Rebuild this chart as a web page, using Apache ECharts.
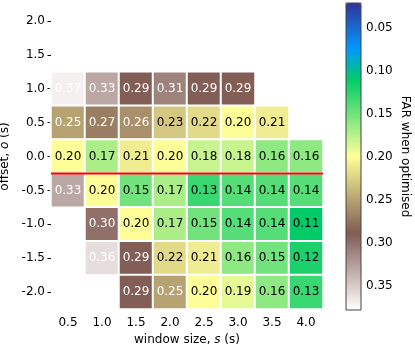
<!DOCTYPE html>
<html>
<head>
<meta charset="utf-8">
<script src="https://cdn.jsdelivr.net/npm/echarts@6/dist/echarts.min.js"></script>
<style>
html, body { margin: 0; padding: 0; background: #fff; }
#container { width: 415px; height: 349px; }
</style>
</head>
<body>
<div id="container"></div>
<script>
var dom = document.getElementById("container");
var myChart = echarts.init(dom);

// window sizes (x) and offsets (y)
var windowSizes = ['0.5', '1.0', '1.5', '2.0', '2.5', '3.0', '3.5', '4.0'];
var offsets = ['-2.0', '-1.5', '-1.0', '-0.5', '0.0', '0.5', '1.0', '1.5', '2.0'];

// FAR per offset row, columns follow windowSizes (null = no cell)
var rowOffsets = ['1.0', '0.5', '0.0', '-0.5', '-1.0', '-1.5', '-2.0'];
var farValues = [
    [0.37, 0.33, 0.29, 0.31, 0.29, 0.29, null, null],
    [0.25, 0.27, 0.26, 0.23, 0.22, 0.20, 0.21, null],
    [0.20, 0.17, 0.21, 0.20, 0.18, 0.18, 0.16, 0.16],
    [0.33, 0.20, 0.15, 0.17, 0.13, 0.14, 0.14, 0.14],
    [null, 0.30, 0.20, 0.17, 0.15, 0.14, 0.14, 0.11],
    [null, 0.36, 0.29, 0.22, 0.21, 0.16, 0.15, 0.12],
    [null, null, 0.29, 0.25, 0.20, 0.19, 0.16, 0.13]
];

// colour bar
var cbarMin = 0.021;
var cbarMax = 0.378;
var cbarTicks = [0.05, 0.10, 0.15, 0.20, 0.25, 0.30, 0.35];

// red separator sits between offset 0.0 and -0.5
var splitOffset = -0.25;

// matplotlib "terrain" sampled every 5%
var terrain = ['#333399', '#2255bb', '#1177dd', '#0099ff', '#00b3b3', '#00cc66',
    '#33d670', '#66e07a', '#99eb85', '#ccf58f', '#ffff99', '#e6de8b', '#ccbe7d',
    '#b39d70', '#997c62', '#805c54', '#997c76', '#b39d98', '#ccbebb', '#e6dedd', '#ffffff'];

var data = [];
for (var r = 0; r < rowOffsets.length; r++) {
    for (var c = 0; c < windowSizes.length; c++) {
        var v = farValues[r][c];
        if (v === null) continue;
        data.push({
            value: [windowSizes[c], rowOffsets[r], v],
            label: { color: v >= 0.245 ? '#ffffff' : '#000000' }
        });
    }
}

var font = 'DejaVu Sans';
var fs = 12;

option = {
    animation: false,
    textStyle: { fontFamily: font },
    grid: [
        { left: 51, top: 4, width: 272, height: 305, outerBoundsMode: 'none', containLabel: false },
        { left: 346, top: 3, width: 15, height: 307, show: true, z: 10, outerBoundsMode: 'none',
          containLabel: false, backgroundColor: 'transparent', borderColor: '#444', borderWidth: 1 }
    ],
    xAxis: [{
        type: 'category',
        gridIndex: 0,
        data: windowSizes,
        axisLine: { show: false },
        axisTick: { show: true, length: 3.5, alignWithLabel: true, lineStyle: { color: '#000' } },
        axisLabel: { color: '#000', fontSize: fs, fontFamily: font, margin: 8 },
        splitLine: { show: false },
        name: 'window size, {i|s} (s)',
        nameLocation: 'middle',
        nameGap: 25,
        nameTextStyle: { color: '#000', fontSize: fs, fontFamily: font,
            rich: { i: { fontStyle: 'italic', fontSize: fs, fontFamily: font, color: '#000' } } }
    }, {
        type: 'value', gridIndex: 0, min: 0.25, max: 4.25, show: false
    }, {
        type: 'value', gridIndex: 1, min: 0, max: 1, show: false
    }],
    yAxis: [{
        type: 'category',
        gridIndex: 0,
        data: offsets,
        axisLine: { show: false },
        axisTick: { show: true, length: 3.5, alignWithLabel: true, lineStyle: { color: '#000' } },
        axisLabel: { color: '#000', fontSize: fs, fontFamily: font, margin: 6 },
        splitLine: { show: false },
        name: 'offset, {i|o} (s)',
        nameLocation: 'middle',
        nameRotate: 90,
        nameGap: 30,
        nameTextStyle: { color: '#000', fontSize: fs, fontFamily: font,
            rich: { i: { fontStyle: 'italic', fontSize: fs, fontFamily: font, color: '#000' } } }
    }, {
        type: 'value', gridIndex: 0, min: -2.25, max: 2.25, show: false
    }, {
        type: 'value',
        gridIndex: 1,
        min: cbarMin,
        max: cbarMax,
        inverse: true,
        position: 'right',
        axisLine: { show: false },
        axisTick: { show: true, length: 3.5, customValues: cbarTicks, lineStyle: { color: '#000' } },
        axisLabel: {
            customValues: cbarTicks, color: '#000', fontSize: fs, fontFamily: font, margin: 5,
            formatter: function (v) { return v.toFixed(2); }
        },
        splitLine: { show: false },
        name: 'FAR when optimised',
        nameLocation: 'middle',
        nameRotate: -90,
        nameGap: 38,
        nameTextStyle: { color: '#000', fontSize: fs, fontFamily: font }
    }],
    visualMap: {
        type: 'continuous',
        seriesIndex: 0,
        dimension: 2,
        min: cbarMin,
        max: cbarMax,
        inverse: true,
        orient: 'vertical',
        left: 346,
        top: 3,
        padding: 0,
        itemWidth: 15,
        itemHeight: 307,
        calculable: false,
        hoverLink: false,
        inRange: { color: terrain }
    },
    series: [{
        type: 'heatmap',
        xAxisIndex: 0,
        yAxisIndex: 0,
        data: data,
        itemStyle: { borderColor: '#fff', borderWidth: 2 },
        label: {
            show: true,
            fontSize: fs,
            fontFamily: font,
            formatter: function (p) { return p.value[2].toFixed(2); }
        },
        emphasis: { disabled: true }
    }, {
        type: 'line',
        xAxisIndex: 1,
        yAxisIndex: 1,
        data: [[0.25, splitOffset], [4.25, splitOffset]],
        symbol: 'none',
        lineStyle: { color: '#ff0000', width: 2 },
        z: 5
    }]
};

if (option && typeof option === "object") {
    myChart.setOption(option, true);
}
</script>
</body>
</html>
